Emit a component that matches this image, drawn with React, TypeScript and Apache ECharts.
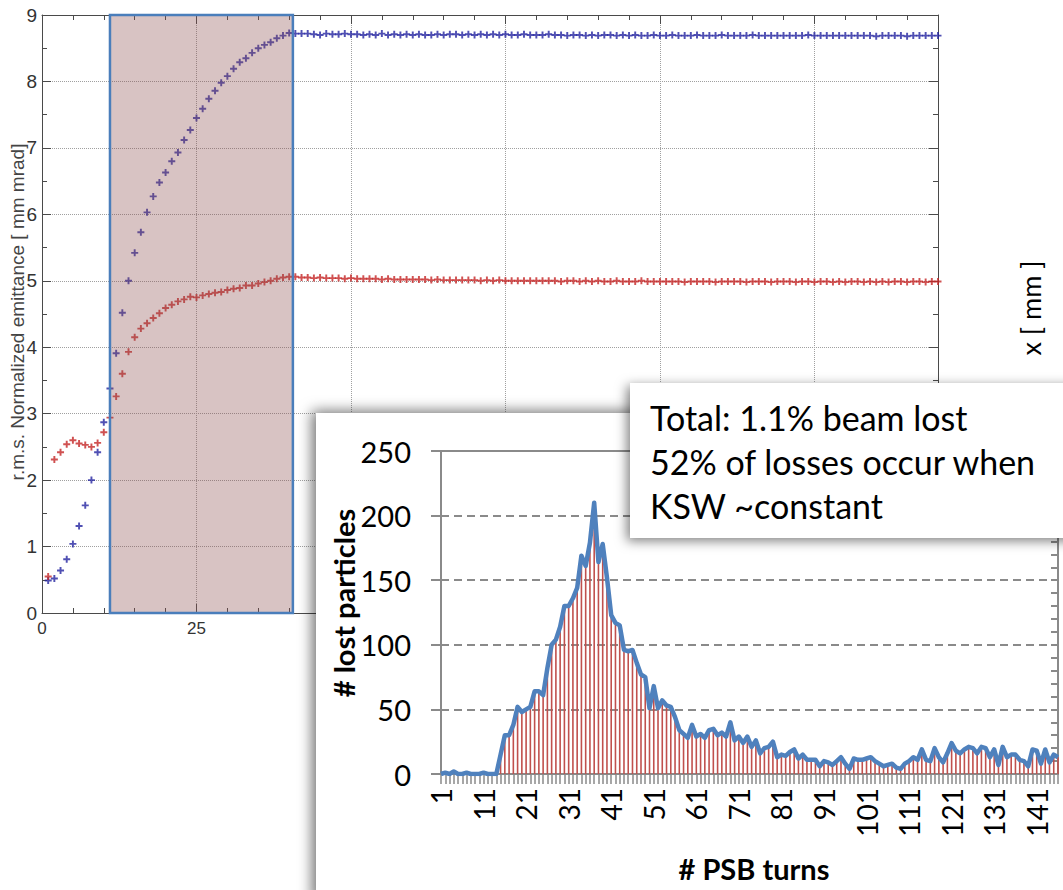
import React, { useEffect, useRef } from "react";
import * as echarts from "echarts";

// ---- Emittance evolution (background plot) ----
const EMIT_X_MAX = 145;
const EMIT_Y_MAX = 9;
// turn window highlighted on the emittance plot
const HIGHLIGHT_START = 11;
const HIGHLIGHT_END = 40.6;

// horizontal emittance, turns 1..145
const EMIT_BLUE = [
  0.49, 0.52, 0.64, 0.81, 1.04, 1.31, 1.62, 2.0, 2.42, 2.87,
  3.38, 3.91, 4.52, 5.0, 5.42, 5.73, 6.03, 6.27, 6.48, 6.63,
  6.8, 6.93, 7.12, 7.27, 7.45, 7.59, 7.74, 7.86, 7.98, 8.08,
  8.19, 8.29, 8.35, 8.43, 8.5, 8.55, 8.59, 8.65, 8.69, 8.73,
  8.72,
  8.72, 8.72, 8.71, 8.7, 8.72, 8.71, 8.71, 8.72, 8.71, 8.71, 8.7, 8.71, 8.7, 8.72, 8.7, 8.71, 8.7, 8.71, 8.7,
  8.71, 8.7, 8.7, 8.71, 8.7, 8.71, 8.71, 8.7, 8.71, 8.7, 8.71, 8.7, 8.71, 8.7, 8.71, 8.7, 8.7, 8.71, 8.7, 8.7,
  8.7, 8.71, 8.7, 8.7, 8.69, 8.7, 8.7, 8.69, 8.7, 8.69, 8.7, 8.7, 8.69, 8.7, 8.69, 8.7, 8.69, 8.69, 8.7, 8.69,
  8.69, 8.7, 8.69, 8.69, 8.69, 8.7, 8.69, 8.69, 8.69, 8.7, 8.69, 8.69, 8.69, 8.69, 8.7, 8.69, 8.69, 8.69, 8.69, 8.69,
  8.69, 8.69, 8.69, 8.7, 8.69, 8.69, 8.69, 8.69, 8.69, 8.69, 8.69, 8.69, 8.69, 8.69, 8.68, 8.69, 8.69, 8.69, 8.69, 8.68, 8.69, 8.69, 8.69, 8.69, 8.69,
];

// vertical emittance, turns 1..145
const EMIT_RED = [
  0.55, 2.31, 2.42, 2.54, 2.6, 2.55, 2.53, 2.5, 2.56, 2.72,
  2.94, 3.26, 3.6, 3.93, 4.15, 4.28, 4.36, 4.44, 4.51, 4.59,
  4.64, 4.69, 4.72, 4.76, 4.75, 4.78, 4.8, 4.82, 4.83, 4.86,
  4.88, 4.89, 4.93, 4.93, 4.96, 4.98, 5.0, 5.03, 5.05, 5.06,
  5.06,
  5.05, 5.05, 5.04, 5.05, 5.04, 5.04, 5.04, 5.03, 5.04, 5.03, 5.03, 5.03, 5.03, 5.02, 5.03, 5.02, 5.02, 5.02, 5.02,
  5.02, 5.02, 5.01, 5.02, 5.01, 5.01, 5.01, 5.01, 5.01, 5.01, 5.0, 5.01, 5.0, 5.01, 5.0, 5.0, 5.0, 5.0, 5.0, 5.0,
  5.0, 5.0, 5.0, 4.99, 5.0, 5.0, 4.99, 5.0, 4.99, 5.0, 4.99, 4.99, 5.0, 4.99, 4.99, 4.99, 5.0, 4.99, 4.99, 4.99,
  4.99, 4.99, 4.99, 4.98, 4.99, 4.99, 4.99, 4.99, 4.98, 4.99, 4.99, 4.99, 4.99, 4.98, 4.99, 4.99, 4.99, 4.98, 4.99, 4.99,
  4.99, 4.98, 4.99, 4.99, 4.98, 4.99, 4.99, 4.98, 4.99, 4.98, 4.99, 4.99, 4.98, 4.99, 4.98, 4.99, 4.98, 4.99, 4.99, 4.98, 4.99, 4.99, 4.98, 4.99, 4.99,
];

// ---- Lost particles per PSB turn (inset) ----
const LOST = [
  0, 1, 0, 2, 0, 0, 1, 0, 0, 0,
  1, 0, 0, 0, 15, 30, 30, 38, 52, 48,
  50, 52, 64, 64, 61, 82, 100, 104, 114, 130,
  130, 136, 144, 169, 161, 179, 210, 164, 178, 152,
  123, 117, 115, 96, 95, 96, 86, 77, 75, 51,
  68, 51, 57, 53, 52, 44, 34, 31, 28, 38,
  29, 31, 28, 34, 35, 30, 32, 29, 40, 26,
  29, 24, 29, 21, 26, 16, 20, 21, 25, 13,
  15, 14, 17, 19, 12, 15, 11, 11, 11, 6,
  10, 9, 7, 10, 13, 8, 4, 12, 11, 11,
  12, 13, 10, 8, 6, 7, 8, 5, 4, 8,
  10, 13, 11, 19, 11, 10, 20, 13, 9, 16,
  24, 18, 16, 19, 21, 20, 16, 21, 20, 13,
  19, 7, 21, 13, 15, 15, 11, 10, 6, 19,
  18, 8, 19, 9, 15, 13,
];
const TURNS = LOST.map((_, i) => String(i + 1));
const LOST_MAX = 250;

const NOTE_LINES = ["Total: 1.1% beam lost", "52% of losses occur when", "KSW ~constant"];

const EMIT_Y_NAME = "r.m.s. Normalized emittance [ mm mrad]";
const EMIT_RIGHT_NAME = "x [ mm ]";
const LOST_Y_NAME = "# lost particles";
const LOST_X_NAME = "# PSB turns";

// "+" marker
const PLUS = "path://M0,2.9H8V5.1H0Z M2.9,0H5.1V8H2.9Z";

const MATLAB_FONT = '"Liberation Sans", Arial, sans-serif';
const OFFICE_FONT = 'Lato, "Open Sans", sans-serif';

export default function App() {
  const ref = useRef<HTMLDivElement>(null);

  useEffect(() => {
    if (!ref.current) return;
    const chart = echarts.init(ref.current, undefined, { renderer: "svg" });

    const boxAxis = {
      axisLine: { show: true, onZero: false, lineStyle: { color: "#4a4a4a", width: 1 } },
      axisTick: { show: true, inside: true, length: 9, lineStyle: { color: "#4a4a4a" } },
      minorTick: { show: true, length: 5, lineStyle: { color: "#4a4a4a" } },
    };

    chart.setOption({
      animation: false,
      backgroundColor: "#ffffff",
      grid: [
        { left: 42, top: 15, width: 896, height: 598 },
        {
          left: 441,
          top: 451,
          width: 617,
          height: 323,
          show: true,
          borderColor: "#8a8a8a",
          borderWidth: 2,
          backgroundColor: "transparent",
          z: 21,
        },
      ],
      xAxis: [
        {
          type: "value",
          gridIndex: 0,
          position: "bottom",
          min: 0,
          max: EMIT_X_MAX,
          interval: 25,
          ...boxAxis,
          minorTick: { ...boxAxis.minorTick, splitNumber: 5 },
          splitLine: { show: true, lineStyle: { type: "dotted", color: "#a0a0a0", width: 1 } },
          axisLabel: { fontFamily: MATLAB_FONT, fontSize: 17, color: "#333", margin: 7 },
        },
        {
          type: "value",
          gridIndex: 0,
          position: "top",
          min: 0,
          max: EMIT_X_MAX,
          interval: 25,
          ...boxAxis,
          minorTick: { ...boxAxis.minorTick, splitNumber: 5 },
          splitLine: { show: false },
          axisLabel: { show: false },
        },
        {
          type: "category",
          gridIndex: 1,
          data: TURNS,
          boundaryGap: false,
          z: 21,
          axisLine: { show: true, lineStyle: { color: "#8a8a8a", width: 2 } },
          axisTick: { show: true, interval: 0, length: 10, lineStyle: { color: "#8a8a8a", width: 1.5 } },
          axisLabel: {
            interval: 9,
            rotate: 90,
            fontFamily: OFFICE_FONT,
            fontSize: 28,
            color: "#000",
            margin: 14,
          },
          splitLine: { show: false },
        },
      ],
      yAxis: [
        {
          type: "value",
          gridIndex: 0,
          position: "left",
          min: 0,
          max: EMIT_Y_MAX,
          interval: 1,
          ...boxAxis,
          minorTick: { ...boxAxis.minorTick, splitNumber: 2 },
          splitLine: { show: true, lineStyle: { type: "dotted", color: "#a0a0a0", width: 1 } },
          axisLabel: { fontFamily: MATLAB_FONT, fontSize: 19, color: "#333", margin: 5 },
        },
        {
          type: "value",
          gridIndex: 0,
          position: "right",
          min: 0,
          max: EMIT_Y_MAX,
          interval: 1,
          ...boxAxis,
          minorTick: { ...boxAxis.minorTick, splitNumber: 2 },
          splitLine: { show: false },
          axisLabel: { show: false },
        },
        {
          type: "value",
          gridIndex: 1,
          min: 0,
          max: LOST_MAX,
          interval: 50,
          z: 21,
          axisLine: { show: true, lineStyle: { color: "#8a8a8a", width: 2 } },
          axisTick: { show: true, inside: false, length: 10, lineStyle: { color: "#8a8a8a", width: 2 } },
          axisLabel: { fontFamily: OFFICE_FONT, fontSize: 29, color: "#000", margin: 30 },
          splitLine: {
            show: true,
            showMinLine: false,
            showMaxLine: false,
            lineStyle: { type: [8, 5], color: "#8a8a8a", width: 2 },
          },
        },
        {
          type: "value",
          gridIndex: 1,
          min: 0,
          max: LOST_MAX,
          interval: 10,
          z: 21,
          axisLine: { show: false },
          axisTick: { show: true, inside: true, length: 7, lineStyle: { color: "#8a8a8a", width: 2 } },
          axisLabel: { show: false },
          splitLine: { show: false },
        },
      ],
      series: [
        {
          name: "emittance H",
          type: "scatter",
          xAxisIndex: 0,
          yAxisIndex: 0,
          data: EMIT_BLUE.map((v, i) => [i + 1, v]),
          symbol: PLUS,
          symbolSize: 7,
          itemStyle: { color: "#2424a0" },
          z: 2,
          markArea: {
            silent: true,
            z: 5,
            itemStyle: {
              color: "rgba(140,80,80,0.34)",
              borderColor: "#4a7ebb",
              borderWidth: 2.5,
            },
            data: [[{ xAxis: HIGHLIGHT_START, yAxis: 0 }, { xAxis: HIGHLIGHT_END, yAxis: EMIT_Y_MAX }]],
          },
        },
        {
          name: "emittance V",
          type: "scatter",
          xAxisIndex: 0,
          yAxisIndex: 0,
          data: EMIT_RED.map((v, i) => [i + 1, v]),
          symbol: PLUS,
          symbolSize: 7,
          itemStyle: { color: "#c42626" },
          z: 2,
        },
        {
          name: "lost bars",
          type: "bar",
          xAxisIndex: 2,
          yAxisIndex: 2,
          data: LOST,
          barWidth: 1.6,
          itemStyle: { color: "#c0504d" },
          z: 22,
        },
        {
          name: "lost line",
          type: "line",
          xAxisIndex: 2,
          yAxisIndex: 2,
          data: LOST,
          symbol: "none",
          lineStyle: { color: "#4f81bd", width: 4.5, join: "round" },
          z: 23,
        },
      ],
      graphic: [
        {
          type: "text",
          x: 17,
          y: 312,
          rotation: Math.PI / 2,
          z: 10,
          style: {
            text: EMIT_Y_NAME,
            font: `19px ${MATLAB_FONT}`,
            fill: "#444",
            textAlign: "center",
            textVerticalAlign: "middle",
            align: "center",
            verticalAlign: "middle",
          },
        },
        {
          type: "text",
          x: 1030,
          y: 308,
          rotation: Math.PI / 2,
          z: 10,
          style: {
            text: EMIT_RIGHT_NAME,
            font: `27px ${OFFICE_FONT}`,
            fill: "#000",
            textAlign: "center",
            textVerticalAlign: "middle",
            align: "center",
            verticalAlign: "middle",
          },
        },
        {
          type: "rect",
          z: 20,
          shape: { x: 316, y: 413, width: 760, height: 490 },
          style: {
            fill: "#fff",
            shadowBlur: 14,
            shadowColor: "rgba(0,0,0,0.55)",
            shadowOffsetX: -4,
            shadowOffsetY: -2,
          },
        },
        {
          type: "text",
          x: 343,
          y: 603,
          rotation: Math.PI / 2,
          z: 24,
          style: {
            text: LOST_Y_NAME,
            font: `bold 29px ${OFFICE_FONT}`,
            fill: "#000",
            textAlign: "center",
            textVerticalAlign: "middle",
            align: "center",
            verticalAlign: "middle",
          },
        },
        {
          type: "text",
          x: 754,
          y: 868,
          z: 24,
          style: {
            text: LOST_X_NAME,
            font: `bold 29px ${OFFICE_FONT}`,
            fill: "#000",
            textAlign: "center",
            textVerticalAlign: "middle",
            align: "center",
            verticalAlign: "middle",
          },
        },
        {
          type: "rect",
          z: 30,
          shape: { x: 630, y: 383, width: 450, height: 155 },
          style: {
            fill: "#fff",
            shadowBlur: 12,
            shadowColor: "rgba(0,0,0,0.5)",
            shadowOffsetX: -3,
            shadowOffsetY: 3,
          },
        },
        {
          type: "text",
          x: 650,
          y: 395,
          z: 31,
          style: {
            text: NOTE_LINES.join("\n"),
            font: `34px ${OFFICE_FONT}`,
            lineHeight: 44,
            fill: "#000",
            textAlign: "left",
            textVerticalAlign: "top",
            align: "left",
            verticalAlign: "top",
          },
        },
      ],
    });

    return () => chart.dispose();
  }, []);

  return (
    <div
      ref={ref}
      style={{ position: "fixed", left: 0, top: 0, width: 1063, height: 890, background: "#fff" }}
    />
  );
}
